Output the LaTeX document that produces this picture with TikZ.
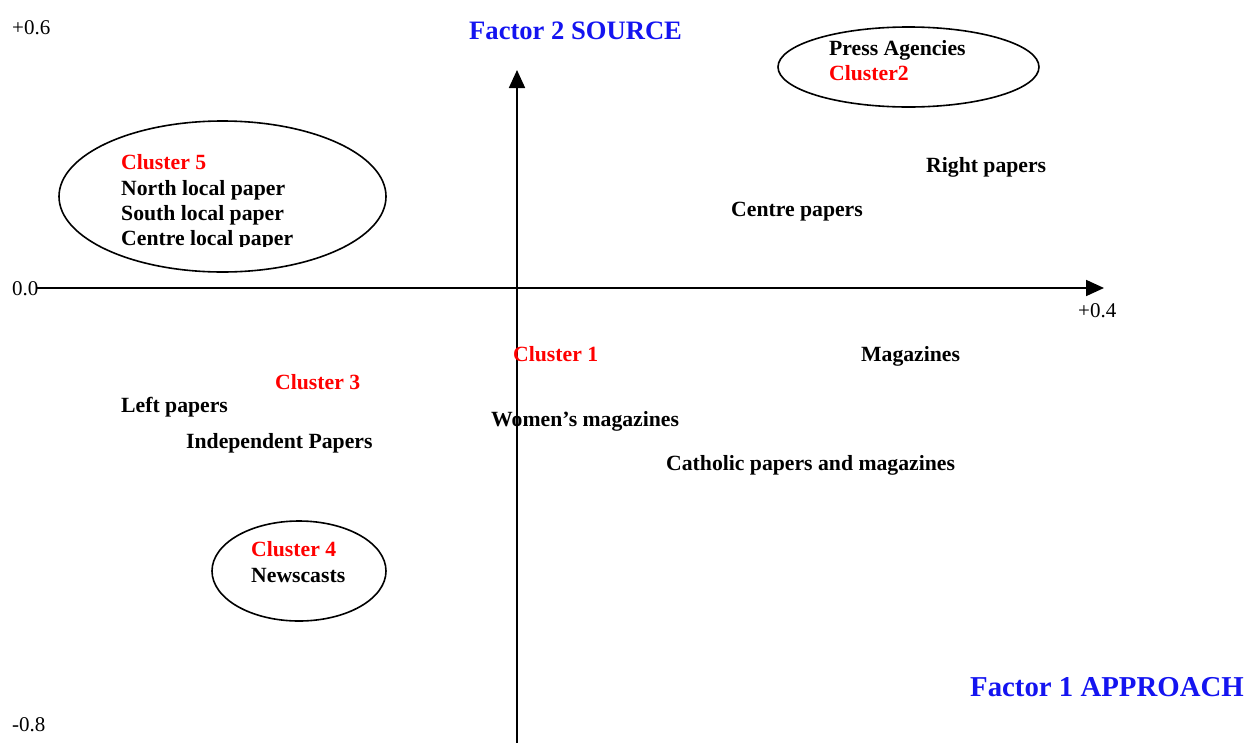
\documentclass[tikz,border=0pt]{standalone}
\usepackage{fontspec}
\setmainfont{Liberation Serif}
\usetikzlibrary{arrows.meta}
\definecolor{labblue}{RGB}{20,20,240}
\definecolor{labred}{RGB}{255,0,0}
\tikzset{
  lab/.style={anchor=base west,inner sep=0pt,font=\fontsize{21.7}{26}\selectfont\bfseries},
  redlab/.style={lab,text=labred},
  tick/.style={anchor=base west,inner sep=0pt,font=\fontsize{21}{25}\selectfont},
  factor/.style={anchor=base west,inner sep=0pt,text=labblue},
  axis/.style={line width=1.8pt,-{Triangle[length=18pt,width=16pt]}},
  clus/.style={line width=1.6pt}
}
\begin{document}
\begin{tikzpicture}[x=1pt,y=-1pt]
\useasboundingbox (0,0) rectangle (1258,742);
% axes
\coordinate (vb) at (517,745);
\coordinate (vt) at (517,70);
\coordinate (hl) at (37,288);
\coordinate (hr) at (1104,288);
\draw[axis] (vb) -- (vt);
\draw[axis] (hl) -- (hr);
% ticks
\node[tick] (t6) at (12,34) {+0.6};
\node[tick] (t0) at (12,295) {0.0};
\node[tick] (t4) at (1078,317) {+0.4};
\node[tick] (t8) at (12,731) {-0.8};
% factor labels
\node[factor,font=\fontsize{26.6}{32}\selectfont\bfseries] (f2) at (469,39) {Factor 2 SOURCE};
\node[factor,font=\fontsize{28.8}{34}\selectfont\bfseries] (f1) at (970,696) {Factor 1 APPROACH};
% ellipses
\draw[clus] (908.5,67) ellipse [x radius=130.5, y radius=40];
\draw[clus] (222.5,196.5) ellipse [x radius=163.5, y radius=75.5];
\draw[clus] (299,571) ellipse [x radius=87, y radius=50];
% cluster 2
\node[lab] (pa) at (829,55) {Press Agencies};
\node[redlab] (c2) at (829,80) {Cluster2};
% cluster 5
\node[redlab] (c5) at (121,169) {Cluster 5};
\node[lab] (nl) at (121,195) {North local paper};
\node[lab] (sl) at (121,220) {South local paper};
\begin{scope}
\clip (100,225) rectangle (330,246);
\node[lab] (cl) at (121,245) {Centre local paper};
\end{scope}
% others
\node[lab] (rp) at (926,172) {Right papers};
\node[lab] (cp) at (731,216) {Centre papers};
\node[redlab] (c1) at (513,361) {Cluster 1};
\node[lab] (mg) at (861,361) {Magazines};
\node[redlab] (c3) at (275,389) {Cluster 3};
\node[lab] (lp) at (121,412) {Left papers};
\node[lab] (ip) at (186,448) {Independent Papers};
\node[lab] (wm) at (491,426) {Women’s magazines};
\node[lab] (ca) at (666,470) {Catholic papers and magazines};
% cluster 4
\node[redlab] (c4) at (251,556) {Cluster 4};
\node[lab] (nc) at (251,582) {Newscasts};
\end{tikzpicture}
\end{document}
